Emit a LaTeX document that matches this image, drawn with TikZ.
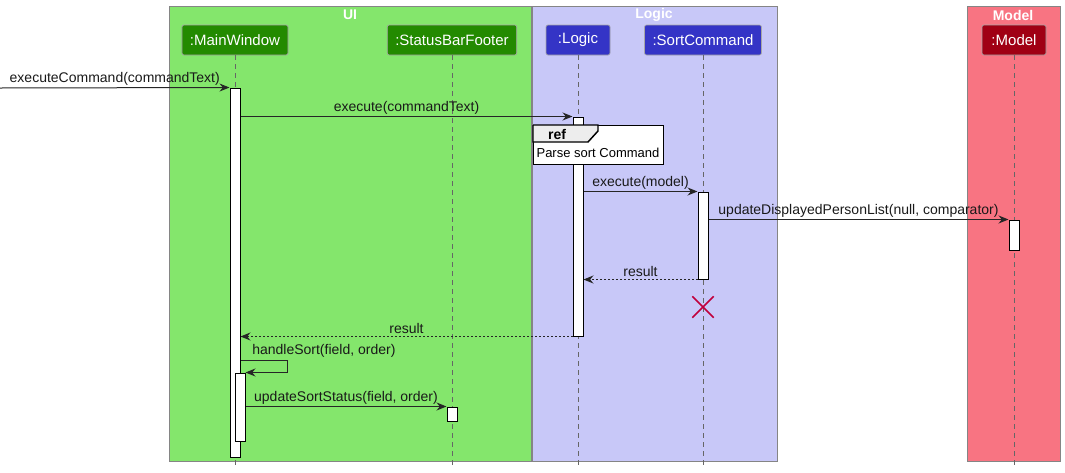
\documentclass[tikz,border=0pt]{standalone}
\usepackage{fontspec}
\setmainfont{Liberation Sans}
\usetikzlibrary{arrows.meta,fit,shapes.misc}
\definecolor{uibg}{HTML}{84E66C}
\definecolor{uihead}{HTML}{238A00}
\definecolor{logicbg}{HTML}{C8C8F8}
\definecolor{logichead}{HTML}{3434C6}
\definecolor{modelbg}{HTML}{F87482}
\definecolor{modelhead}{HTML}{A00014}
\definecolor{framegray}{HTML}{858585}
\definecolor{destroyred}{HTML}{C0003C}
\tikzset{
	party/.style={draw=black!35, rounded corners=1.5pt, text=white, font=\fontsize{11.25}{13}\selectfont, minimum height=22.5pt, minimum width=48pt, inner xsep=6pt, line width=0.5pt},
	life/.style={draw=black!60, dash pattern=on 3.75pt off 3pt, line width=0.6pt},
	act/.style={draw=black, fill=white, inner sep=0pt, line width=0.75pt},
	msg/.style={-{Stealth[length=7.5pt,width=6pt,inset=2.5pt]}, line width=0.75pt, black!85},
	reply/.style={msg, dash pattern=on 1.5pt off 1.5pt},
	lbl/.style={font=\fontsize{10.5}{12}\selectfont, inner sep=1.5pt, text=black!90},
	ftitle/.style={font=\bfseries\fontsize{10.5}{12}\selectfont, text=white}
}
\begin{document}
\begin{tikzpicture}[x=0.75pt,y=-0.75pt]
\useasboundingbox (0,0) rectangle (1065,472);
\filldraw[fill=uibg, draw=framegray] (169,6) rectangle (531,461);
\filldraw[fill=logicbg, draw=framegray] (532,6) rectangle (777,461);
\filldraw[fill=modelbg, draw=framegray] (967,6) rectangle (1060,461);
\node[ftitle] (ui) at (350,15) {UI};
\node[ftitle] (logic) at (654,15) {Logic};
\node[ftitle] (model) at (1013,15) {Model};
\node[party, fill=uihead] (mw) at (235,40) {:MainWindow};
\node[party, fill=uihead] (sb) at (452,40) {:StatusBarFooter};
\node[party, fill=logichead] (lg) at (578,40) {:Logic};
\node[party, fill=logichead] (sc) at (703,40) {:SortCommand};
\node[party, fill=modelhead] (md) at (1014,40) {:Model};
\foreach \p in {mw,sb,lg,sc,md}
{
	\draw[life] (\p.south) -- (\p.south |- 0,468);
}
\node[act, fit={(230,88) (240,457)}] (mwA) {};
\node[act, fit={(235,373) (245,441)}] (mwB) {};
\node[act, fit={(573,117) (583,336)}] (lgA) {};
\node[act, fit={(698,192) (708,279)}] (scA) {};
\node[act, fit={(1009,220) (1019,250)}] (mdA) {};
\node[act, fit={(447,407) (457,421)}] (sbA) {};
\coordinate (caller) at (0,88);
\draw[msg] (caller) -- node[lbl, above] (m1) {executeCommand(commandText)} (mwA.north west);
\draw[msg] (mwA.east |- lgA.north) -- node[lbl, above] (m2) {execute(commandText)} (lgA.north west);
\node[draw=black, fill=white, line width=1.1pt, minimum width=97.5pt, minimum height=29.25pt, anchor=north west] (ref) at (533,125) {};
\filldraw[fill=black!7, line width=1.1pt] (ref.north west) -- ++(65,0) -- ++(0,6) -- ++(-10,11) -| (ref.north west);
\node[font=\bfseries\fontsize{10.5}{12}\selectfont] (reftag) at (557,134) {ref};
\node[font=\fontsize{9.75}{11}\selectfont] (reftext) at (598,153) {Parse sort Command};
\draw[msg] (lgA.east |- scA.north) -- node[lbl, above] (m3) {execute(model)} (scA.north west);
\draw[msg] (scA.east |- mdA.north) -- node[lbl, above] (m4) {updateDisplayedPersonList(null, comparator)} (mdA.north west);
\draw[reply] (scA.south west) -- node[lbl, above] (m5) {result} (lgA.east |- scA.south);
\node[draw=destroyred, cross out, line width=1.1pt, minimum size=15pt, inner sep=0pt] (sckill) at (703,307) {};
\draw[reply] (lgA.south west) -- node[lbl, above] (m6) {result} (mwA.east |- lgA.south);
\coordinate (hs) at (241,360);
\draw[msg] (hs) -- ++(46,0) |- (mwB.north east);
\node[lbl, anchor=south west] (m7) at (250,360) {handleSort(field, order)};
\draw[msg] (mwB.east |- sbA.north) -- node[lbl, above] (m8) {updateSortStatus(field, order)} (sbA.north west);
\end{tikzpicture}
\end{document}
